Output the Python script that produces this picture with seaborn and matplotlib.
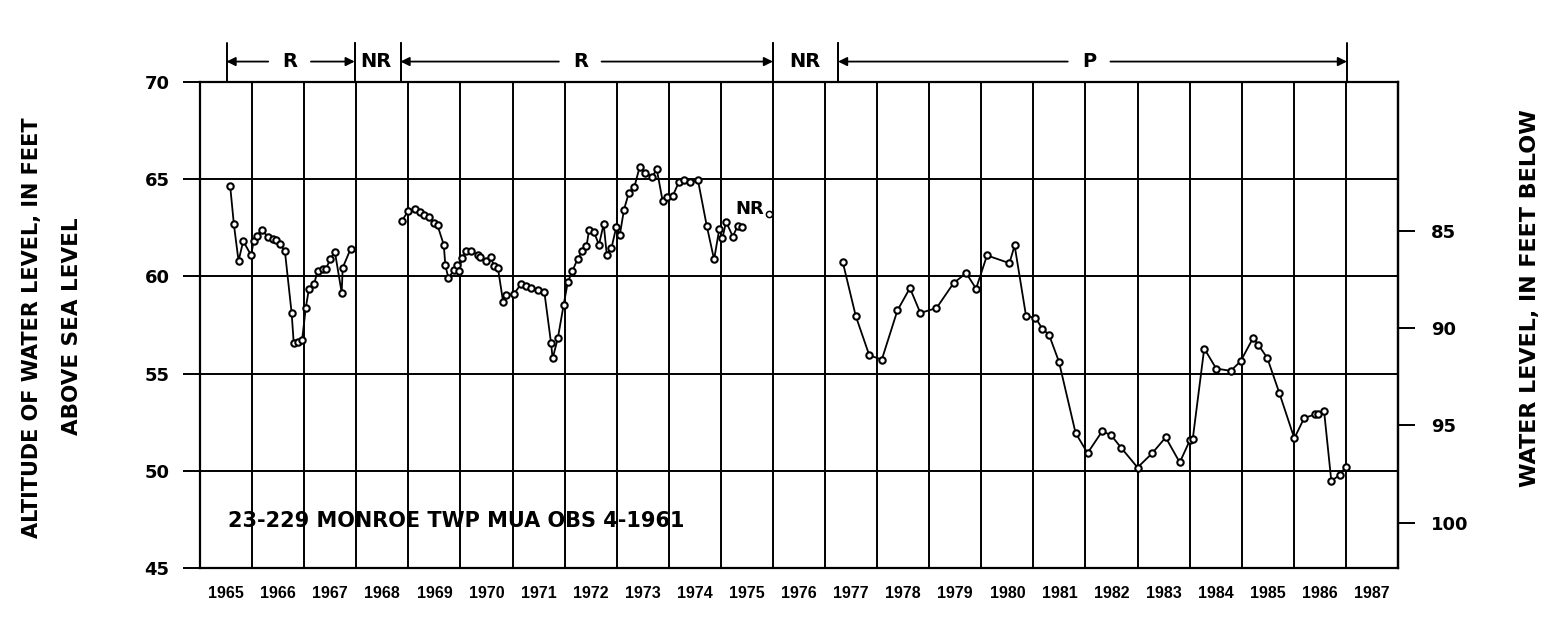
import matplotlib
matplotlib.use("Agg")
import matplotlib.pyplot as plt
import seaborn as sns

# Observation well 23-229, Monroe Twp MUA Obs 4-1961
# altitude of water level (ft above sea level), decimal years

years_1965 = [1965.58, 1965.65, 1965.74, 1965.83, 1965.98, 1966.03, 1966.09,
              1966.19, 1966.30, 1966.40, 1966.46, 1966.54, 1966.63, 1966.76,
              1966.80, 1966.88, 1966.96, 1967.03, 1967.09, 1967.19, 1967.26,
              1967.36, 1967.42, 1967.50, 1967.59, 1967.72, 1967.74, 1967.89]
levels_1965 = [64.63, 62.69, 60.79, 61.82, 61.09, 61.80, 62.07,
               62.41, 62.02, 61.94, 61.85, 61.65, 61.30, 58.10,
               56.55, 56.63, 56.72, 58.37, 59.33, 59.61, 60.29,
               60.39, 60.39, 60.89, 61.26, 59.16, 60.45, 61.40]

years_1968 = [1968.87, 1969.00, 1969.13, 1969.22, 1969.30, 1969.39, 1969.50,
              1969.56, 1969.68, 1969.71, 1969.77, 1969.88, 1969.94, 1969.97,
              1970.03, 1970.11, 1970.21, 1970.34, 1970.37, 1970.50, 1970.58,
              1970.65, 1970.72, 1970.82, 1970.88, 1971.03, 1971.16, 1971.26,
              1971.35, 1971.48, 1971.61, 1971.74, 1971.77, 1971.87, 1971.98,
              1972.06, 1972.15, 1972.25, 1972.34, 1972.42, 1972.47, 1972.56,
              1972.66, 1972.75, 1972.81, 1972.90, 1972.99, 1973.06, 1973.14,
              1973.23, 1973.34, 1973.44, 1973.55, 1973.68, 1973.77, 1973.88,
              1973.97, 1974.08, 1974.19, 1974.29, 1974.41, 1974.56, 1974.73,
              1974.87, 1974.97, 1975.03, 1975.10, 1975.23, 1975.32, 1975.40]
levels_1968 = [62.83, 63.38, 63.46, 63.31, 63.17, 63.05, 62.74,
               62.62, 61.63, 60.57, 59.91, 60.34, 60.60, 60.29,
               60.94, 61.29, 61.29, 61.11, 60.98, 60.77, 60.98,
               60.51, 60.43, 58.68, 59.05, 59.10, 59.60, 59.52,
               59.38, 59.32, 59.22, 56.57, 55.78, 56.82, 58.51,
               59.69, 60.28, 60.90, 61.29, 61.54, 62.39, 62.30,
               61.63, 62.69, 61.12, 61.46, 62.52, 62.13, 63.43,
               64.27, 64.61, 65.62, 65.34, 65.12, 65.51, 63.90,
               64.07, 64.16, 64.83, 64.95, 64.83, 64.95, 62.59,
               60.87, 62.44, 61.96, 62.81, 62.05, 62.59, 62.52]

years_nr = [1975.93]
levels_nr = [63.20]

years_1977 = [1977.34, 1977.59, 1977.85, 1978.09, 1978.39, 1978.63, 1978.83,
              1979.14, 1979.47, 1979.71, 1979.90, 1980.11, 1980.54, 1980.64,
              1980.86, 1981.04, 1981.17, 1981.30, 1981.49, 1981.81, 1982.04,
              1982.32, 1982.49, 1982.69, 1983.00, 1983.28, 1983.54, 1983.81,
              1984.01, 1984.06, 1984.28, 1984.51, 1984.79, 1984.98, 1985.22,
              1985.32, 1985.49, 1985.72, 1986.01, 1986.20, 1986.41, 1986.47,
              1986.58, 1986.72, 1986.88, 1987.00]
levels_1977 = [60.74, 57.96, 55.94, 55.72, 58.25, 59.40, 58.12,
               58.37, 59.66, 60.17, 59.37, 61.08, 60.68, 61.59,
               57.95, 57.88, 57.31, 57.00, 55.62, 51.95, 50.91,
               52.03, 51.84, 51.17, 50.17, 50.90, 51.72, 50.43,
               51.60, 51.64, 56.29, 55.26, 55.14, 55.64, 56.84,
               56.47, 55.81, 54.02, 51.67, 52.72, 52.90, 52.93,
               53.10, 49.48, 49.78, 50.22]

# record-type periods along the top (R = recorder, NR = no record, P = periodic)
period_labels = ["R", "NR", "R", "NR", "P"]
period_starts = [1965.51, 1967.97, 1968.85, 1976.00, 1977.25]
period_ends = [1967.97, 1968.85, 1976.00, 1977.25, 1987.02]
period_label_x = [1966.73, 1968.38, 1972.31, 1976.62, 1982.08]

year_labels = list(range(1965, 1988))
land_surface = 147.34  # depth below land surface = land_surface - altitude

sns.set_theme(style="white")
plt.rcParams["font.family"] = ["DejaVu Sans"]
plt.rcParams["text.color"] = "black"
plt.rcParams["xtick.color"] = "black"
plt.rcParams["ytick.color"] = "black"
plt.rcParams["axes.labelcolor"] = "black"

fig = plt.figure(figsize=(15.42, 6.36), dpi=100)
ax = fig.add_axes([0.1297, 0.1069, 0.7769, 0.7642])

line_kw = dict(color="black", lw=1.3, marker="o", markersize=4.6,
               markerfacecolor="white", markeredgecolor="black",
               markeredgewidth=1.5, sort=False, estimator=None, ax=ax)
sns.lineplot(x=years_1965, y=levels_1965, **line_kw)
sns.lineplot(x=years_1968, y=levels_1968, **line_kw)
sns.lineplot(x=years_1977, y=levels_1977, **line_kw)
sns.scatterplot(x=years_nr, y=levels_nr, s=20, facecolor="white",
                edgecolor="black", linewidth=1.1, ax=ax, zorder=3)
ax.text(1975.56, 63.45, "NR", fontsize=13, fontweight="bold",
        ha="center", va="center")

ax.set_xlim(1965, 1988)
ax.set_ylim(45, 70)

# grid: integer years, 5-ft altitudes
ax.set_xticks([y + 0.5 for y in year_labels])
ax.set_xticklabels([str(y) for y in year_labels], family="Liberation Sans",
                   fontweight="bold", fontsize=11.5)
ax.set_xticks(range(1966, 1988), minor=True)
ax.tick_params(axis="x", which="both", length=0, pad=13)
ax.set_yticks(range(45, 71, 5))
ax.set_yticklabels([str(v) for v in range(45, 71, 5)], fontweight="bold",
                   fontsize=13)
ax.tick_params(axis="y", direction="out", length=12, width=1.4, pad=10,
               left=True, color="black")
ax.grid(axis="x", which="minor", color="black", lw=1.4)
ax.grid(axis="y", which="major", color="black", lw=1.4)
for s in ax.spines.values():
    s.set_color("black")
    s.set_linewidth(1.6)
ax.set_xlabel("")
ax.set_ylabel("")

# right axis: depth below land surface
ax2 = ax.secondary_yaxis("right", functions=(lambda a: land_surface - a,
                                             lambda d: land_surface - d))
ax2.set_yticks([85, 90, 95, 100])
ax2.set_yticklabels(["85", "90", "95", "100"], fontweight="bold", fontsize=13)
ax2.tick_params(direction="out", length=12, width=1.4, pad=12, color="black")
ax2.spines["right"].set_linewidth(1.6)
ax2.spines["right"].set_color("black")

# period brackets above plot
arrow_y = 71.05
for lab, x0, x1, xt in zip(period_labels, period_starts, period_ends, period_label_x):
    for xb in (x0, x1):
        ax.plot([xb, xb], [70, 72.0], color="black", lw=1.4, clip_on=False)
    ax.text(xt, arrow_y, lab, fontsize=14, fontweight="bold",
            ha="center", va="center", clip_on=False)
    if lab != "NR":
        for xb, xs in ((x0, xt - 0.42), (x1, xt + 0.40)):
            ax.annotate("", xy=(xb, arrow_y), xytext=(xs, arrow_y),
                        annotation_clip=False,
                        arrowprops=dict(arrowstyle="-|>", color="black",
                                        lw=1.3, shrinkA=0, shrinkB=0,
                                        mutation_scale=13))

ax.text(1965.54, 47.42, "23-229 MONROE TWP MUA OBS 4-1961", fontsize=15,
        fontweight="bold", ha="left", va="center")

fig.text(32 / 1542, 1 - 328 / 636, "ALTITUDE OF WATER LEVEL, IN FEET",
         rotation=90, ha="center", va="center", fontsize=15, fontweight="bold")
fig.text(72 / 1542, 1 - 326 / 636, "ABOVE SEA LEVEL",
         rotation=90, ha="center", va="center", fontsize=15.5, fontweight="bold")
fig.text(1530 / 1542, 1 - 298 / 636, "WATER LEVEL, IN FEET BELOW",
         rotation=90, ha="center", va="center", fontsize=16, fontweight="bold")

fig.savefig("out.png", dpi=100, facecolor="white")
